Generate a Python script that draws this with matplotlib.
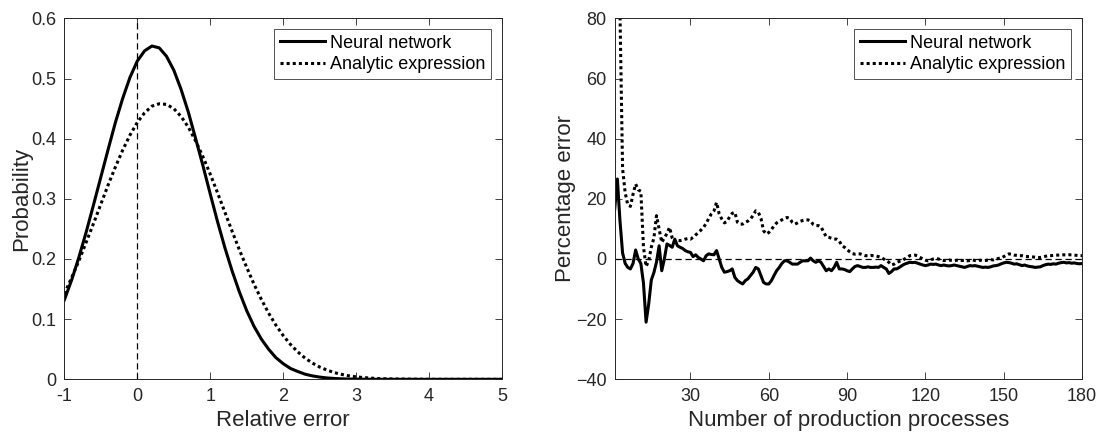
import matplotlib
matplotlib.use("Agg")
import matplotlib.pyplot as plt

plt.rcParams['font.family'] = ['Liberation Sans', 'DejaVu Sans']

# ---------------- Left panel data ----------------
rel_err = [-1.0, -0.9, -0.8, -0.7, -0.6, -0.5, -0.4, -0.3, -0.2, -0.1,
           0.0, 0.1, 0.2, 0.3, 0.4, 0.5, 0.6, 0.7, 0.8, 0.9,
           1.0, 1.1, 1.2, 1.3, 1.4, 1.5, 1.6, 1.7, 1.8, 1.9,
           2.0, 2.1, 2.2, 2.3, 2.4, 2.5, 2.6, 2.7, 2.8, 2.9,
           3.0, 3.1, 3.2, 3.3, 3.4, 3.5, 4.0, 4.5, 5.0]
prob_nn = [0.132, 0.165, 0.203, 0.245, 0.290, 0.336, 0.382, 0.427, 0.467, 0.502,
           0.529, 0.546, 0.554, 0.551, 0.537, 0.514, 0.482, 0.444, 0.400, 0.355,
           0.308, 0.262, 0.219, 0.180, 0.145, 0.114, 0.088, 0.067, 0.050, 0.036,
           0.026, 0.018, 0.013, 0.0085, 0.0057, 0.0037, 0.0023, 0.0014, 0.0008, 0.0005,
           0.0003, 0.0002, 0.0001, 0.0, 0.0, 0.0, 0.0, 0.0, 0.0]
prob_an = [0.142, 0.169, 0.197, 0.228, 0.259, 0.291, 0.323, 0.353, 0.381, 0.406,
           0.427, 0.443, 0.454, 0.458, 0.457, 0.450, 0.437, 0.419, 0.396, 0.370,
           0.341, 0.310, 0.278, 0.246, 0.215, 0.186, 0.158, 0.133, 0.110, 0.090,
           0.0727, 0.0579, 0.0455, 0.0353, 0.0270, 0.0204, 0.0153, 0.0112, 0.0082, 0.0058,
           0.0041, 0.0029, 0.0020, 0.0013, 0.0009, 0.0006, 0.0, 0.0, 0.0]

# ---------------- Right panel data ----------------
n_proc = list(range(1, 181))
pct_nn = [16.7, 26.6, 12.7, 2.0, -1.5, -2.8, -3.3, -1.5, 3.0, 0.0,
          -1.5, -8.0, -21.0, -15.0, -7.0, -4.5, -1.0, 4.4, -3.9, 0.0,
          5.0, 4.5, 3.9, 6.6, 4.4, 3.9, 3.5, 2.8, 2.4, 2.2,
          0.8, 1.4, 0.5, 0.0, -0.6, 1.1, 1.7, 1.5, 1.4, 2.8,
          0.0, -2.8, -4.4, -4.2, -3.9, -3.3, -6.1, -7.2, -7.8, -8.3,
          -7.2, -6.6, -5.5, -4.4, -2.8, -3.3, -5.5, -7.8, -8.3, -8.3,
          -7.2, -5.5, -3.9, -2.8, -1.5, -0.6, -0.6, -1.1, -1.7, -1.7,
          -1.7, -1.1, -0.6, -0.6, -0.6, 0.3, -0.6, -1.1, -0.6, -1.1,
          -2.5, -3.9, -3.3, -3.9, -2.8, -1.1, -3.3, -3.3, -3.5, -3.9,
          -4.2, -3.3, -2.5, -2.2, -2.5, -2.8, -2.8, -2.6, -2.8, -2.8,
          -2.7, -2.8, -2.2, -2.8, -3.3, -4.8, -4.2, -3.3, -3.3, -2.8,
          -2.2, -1.7, -1.4, -1.1, -1.2, -1.1, -1.4, -1.7, -2.0, -2.2,
          -2.0, -1.7, -1.8, -1.7, -2.0, -2.2, -2.0, -2.2, -2.3, -2.2,
          -2.0, -2.2, -2.4, -2.6, -2.8, -2.5, -2.2, -2.3, -2.2, -2.4,
          -2.6, -2.8, -2.7, -2.8, -2.6, -2.3, -2.2, -2.0, -1.6, -1.3,
          -1.1, -1.2, -1.4, -1.7, -1.6, -1.9, -2.2, -2.0, -2.3, -2.5,
          -2.6, -2.8, -2.7, -2.6, -2.2, -1.9, -1.7, -1.8, -1.6, -1.7,
          -1.4, -1.2, -1.1, -1.3, -1.2, -1.4, -1.3, -1.5, -1.6, -1.5]
pct_an = [250.0, 150.0, 82.0, 30.0, 22.0, 18.0, 17.5, 21.5, 24.9, 23.0,
          22.5, 4.0, -2.5, -0.6, 3.9, 7.0, 14.4, 10.0, 5.5, 7.0,
          8.5, 10.5, 7.0, 5.5, 6.2, 6.1, 6.3, 6.6, 6.8, 6.6,
          7.2, 8.0, 8.8, 9.6, 10.5, 11.8, 13.5, 15.0, 16.0, 18.8,
          15.0, 13.3, 12.0, 12.5, 14.0, 15.2, 15.5, 12.2, 11.6, 11.6,
          12.2, 12.6, 13.3, 14.5, 16.0, 15.5, 13.5, 9.4, 8.3, 8.8,
          9.8, 11.0, 12.0, 12.5, 13.0, 13.5, 13.8, 13.5, 12.2, 11.6,
          12.0, 12.5, 12.8, 13.0, 13.0, 12.7, 11.5, 11.1, 11.1, 10.7,
          9.0, 7.4, 7.2, 6.9, 6.6, 6.6, 6.0, 4.4, 3.9, 3.1,
          2.4, 1.8, 1.6, 1.7, 1.7, 1.4, 1.1, 1.1, 1.2, 1.1,
          1.0, 0.8, 0.5, 0.0, -0.5, -1.1, -2.0, -1.7, -1.1, -0.8,
          -0.6, 0.0, 0.5, 1.1, 1.2, 1.3, 1.0, 0.5, 0.0, -0.4,
          -0.6, -0.3, 0.0, 0.2, 0.0, -0.3, -0.5, -0.4, -0.3, -0.5,
          -0.6, -0.4, -0.3, -0.5, -0.4, -0.6, -0.5, -0.3, -0.5, -0.6,
          -0.4, -0.6, -0.5, -0.3, -0.2, -0.3, 0.0, 0.2, 0.3, 0.8,
          1.3, 1.7, 1.6, 1.3, 1.2, 1.1, 1.1, 0.9, 0.8, 0.8,
          0.7, 0.6, 0.5, 0.5, 0.7, 0.9, 1.1, 1.1, 1.2, 1.3,
          1.3, 1.3, 1.4, 1.3, 1.4, 1.4, 1.3, 1.2, 1.1, 1.1]

left_xticks = [-1, 0, 1, 2, 3, 4, 5]
left_yticks = [0, 0.1, 0.2, 0.3, 0.4, 0.5, 0.6]
left_yticklabels = ['0', '0.1', '0.2', '0.3', '0.4', '0.5', '0.6']
right_xticks = [30, 60, 90, 120, 150, 180]
right_yticks = [-40, -20, 0, 20, 40, 60, 80]
labels = ['Neural network', 'Analytic expression']

TXT = '#262626'
DOT = (0, (1.0, 1.0))

fig = plt.figure(figsize=(10.96, 4.37), dpi=100)
axL = fig.add_axes([0.0587, 0.132, 0.3994, 0.826])
axR = fig.add_axes([0.5609, 0.132, 0.4264, 0.826])


def style(ax):
    ax.tick_params(direction='in', top=True, right=True, length=5, width=0.6,
                   colors=TXT, labelsize=13, pad=6)
    for s in ax.spines.values():
        s.set_color(TXT)
        s.set_linewidth(0.7)


# Left panel
axL.plot(rel_err, prob_nn, color='black', lw=2.2, label=labels[0])
axL.plot(rel_err, prob_an, color='black', lw=2.2, linestyle=DOT, label=labels[1])
axL.axvline(0, color='black', lw=0.9, linestyle=(0, (5, 3)))
axL.set_xlim(-1, 5)
axL.set_ylim(0, 0.6)
axL.set_xticks(left_xticks)
axL.set_xticklabels([str(t) for t in left_xticks])
axL.set_yticks(left_yticks)
axL.set_yticklabels(left_yticklabels)
axL.set_xlabel('Relative error', fontsize=16, color=TXT, labelpad=4)
axL.set_ylabel('Probability', fontsize=16, color=TXT, labelpad=-1)
style(axL)
legL = axL.legend(loc='upper right', fontsize=13, frameon=True, fancybox=False,
                  edgecolor=TXT, handlelength=2.5, handletextpad=0.3,
                  borderpad=0.3, labelspacing=0.25, borderaxespad=0.6)
legL.get_frame().set_linewidth(0.7)

# Right panel
axR.plot(n_proc, pct_nn, color='black', lw=2.2, label=labels[0])
axR.plot(n_proc, pct_an, color='black', lw=2.2, linestyle=DOT, label=labels[1])
axR.axhline(0, color='black', lw=0.9, linestyle=(0, (5, 3)))
axR.set_xlim(1, 180)
axR.set_ylim(-40, 80)
axR.set_xticks(right_xticks)
axR.set_yticks(right_yticks)
axR.set_xlabel('Number of production processes', fontsize=16, color=TXT, labelpad=4)
axR.set_ylabel('Percentage error', fontsize=16, color=TXT, labelpad=0)
style(axR)
legR = axR.legend(loc='upper right', fontsize=13, frameon=True, fancybox=False,
                  edgecolor=TXT, handlelength=2.5, handletextpad=0.3,
                  borderpad=0.3, labelspacing=0.25, borderaxespad=0.6)
legR.get_frame().set_linewidth(0.7)

fig.savefig('out.png', dpi=100, facecolor='white')
